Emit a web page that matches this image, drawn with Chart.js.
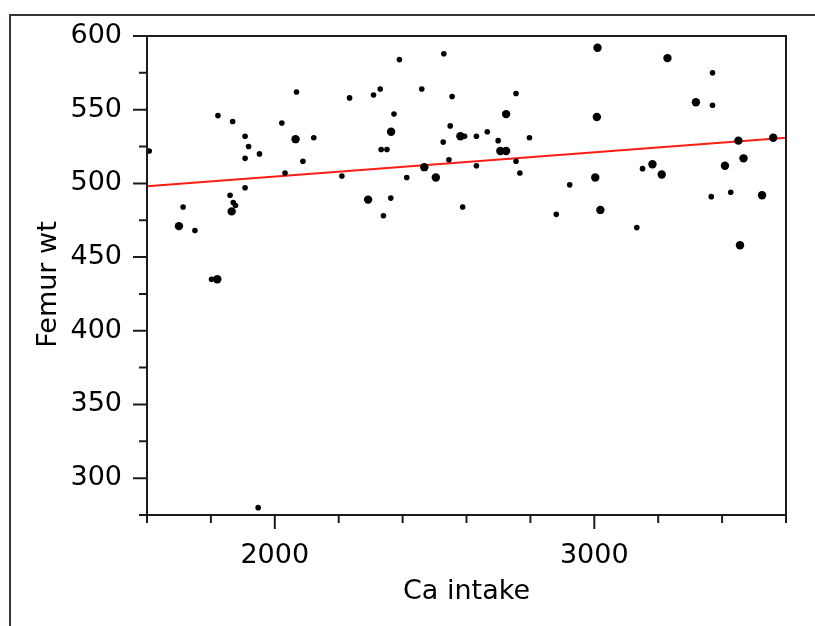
<!DOCTYPE html>
<html>
<head>
<meta charset="utf-8">
<script src="https://cdn.jsdelivr.net/npm/chart.js@4.4.1/dist/chart.umd.min.js"></script>
<style>
  html, body { margin: 0; padding: 0; background: #fff; }
  #wrap { width: 815px; height: 626px; position: relative; }
</style>
</head>
<body>
<div id="wrap"><canvas id="chartFemur"></canvas></div>
<script>
// pontos simples (um rato) e pontos sobrepostos (desenhados maiores)
const smallX = [1607, 1713, 1750, 1822, 1868, 1907, 1918, 1907, 1952, 1907, 1860, 1870, 1877,
  2068, 2022, 2122, 2088, 2032, 2210, 2234, 2390, 2529, 2309, 2330, 2460, 2555, 2755, 2373,
  2549, 2333, 2351, 2527, 2594, 2631, 2665, 2699, 2797, 2545, 2631, 2755, 2767, 2413, 2363,
  2340, 2588, 2881, 2923, 3370, 3370, 3151, 3366, 3427, 3133, 1802, 1948];
const smallY = [522, 484, 468, 546, 542, 532, 525, 517, 520, 497, 492, 487, 485,
  562, 541, 531, 515, 507, 505, 558, 584, 588, 560, 564, 564, 559, 561, 547,
  539, 523, 523, 528, 532, 532, 535, 529, 531, 516, 512, 515, 507, 504, 490,
  478, 484, 479, 499, 575, 553, 510, 491, 494, 470, 435, 280];

const bigX = [1700, 1865, 2065, 2724, 2364, 2581, 2706, 2724, 2468, 2504, 2292, 3010, 3229,
  3318, 3008, 3451, 3560, 3467, 3409, 3182, 3211, 3003, 3019, 3525, 3456, 1820];
const bigY = [471, 481, 530, 547, 535, 532, 522, 522, 511, 504, 489, 592, 585,
  555, 545, 529, 531, 517, 512, 513, 506, 504, 482, 492, 458, 435];

const fitX = [1600, 3600];
const fitY = [498, 531];

const xTicks = [2000, 3000];
const xMinor = [1600, 1800, 2200, 2400, 2600, 2800, 3200, 3400, 3600];
const yTicks = [300, 350, 400, 450, 500, 550, 600];
const yMinor = [275, 325, 375, 425, 475, 525, 575];

const FONT = { family: '"DejaVu Sans", sans-serif', size: 27 };

const molduraTicks = {
  id: 'molduraTicks',
  beforeDraw(chart) {
    const { ctx } = chart;
    ctx.save();
    ctx.strokeStyle = '#3b3333';
    ctx.lineWidth = 2;
    ctx.beginPath();
    ctx.moveTo(10, chart.height);
    ctx.lineTo(10, 15);
    ctx.lineTo(chart.width, 15);
    ctx.stroke();
    ctx.restore();
  },
  afterDraw(chart) {
    const { ctx, chartArea: a, scales: { x, y } } = chart;
    ctx.save();
    ctx.strokeStyle = '#1e1a1a';
    ctx.lineWidth = 2;
    ctx.strokeRect(a.left, a.top, a.right - a.left, a.bottom - a.top);
    ctx.beginPath();
    yTicks.forEach((v) => { const py = y.getPixelForValue(v); ctx.moveTo(a.left - 14, py); ctx.lineTo(a.left, py); });
    yMinor.forEach((v) => { const py = y.getPixelForValue(v); ctx.moveTo(a.left - 8, py); ctx.lineTo(a.left, py); });
    xTicks.forEach((v) => { const px = x.getPixelForValue(v); ctx.moveTo(px, a.bottom); ctx.lineTo(px, a.bottom + 14); });
    xMinor.forEach((v) => { const px = x.getPixelForValue(v); ctx.moveTo(px, a.bottom); ctx.lineTo(px, a.bottom + 8); });
    ctx.stroke();

    // título do eixo y, um pouco abaixo do centro como no original
    ctx.fillStyle = '#000';
    ctx.font = `${FONT.size}px ${FONT.family}`;
    ctx.textAlign = 'center';
    ctx.textBaseline = 'middle';
    ctx.translate(49, (a.top + a.bottom) / 2 + 9);
    ctx.rotate(-Math.PI / 2);
    ctx.fillText('Femur wt', 0, 0);
    ctx.restore();
  },
};

new Chart(document.getElementById('chartFemur'), {
  type: 'scatter',
  data: {
    datasets: [
      {
        data: smallX.map((v, i) => ({ x: v, y: smallY[i] })),
        backgroundColor: '#000',
        borderWidth: 0,
        pointRadius: 2.8,
        order: 1,
      },
      {
        data: bigX.map((v, i) => ({ x: v, y: bigY[i] })),
        backgroundColor: '#000',
        borderWidth: 0,
        pointRadius: 4.2,
        order: 1,
      },
      {
        type: 'line',
        data: fitX.map((v, i) => ({ x: v, y: fitY[i] })),
        borderColor: '#ff1c14',
        borderWidth: 2,
        pointRadius: 0,
        fill: false,
        order: 3,
      },
    ],
  },
  options: {
    responsive: true,
    maintainAspectRatio: false,
    animation: false,
    events: [],
    layout: { padding: { top: 36, right: 29, left: 0, bottom: 0 } },
    plugins: { legend: { display: false }, tooltip: { enabled: false } },
    scales: {
      x: {
        type: 'linear',
        min: 1600,
        max: 3600,
        afterBuildTicks: (s) => { s.ticks = xTicks.map((v) => ({ value: v })); },
        afterFit: (s) => { s.height = 111; s.paddingLeft = 0; s.paddingRight = 0; },
        grid: { display: false, drawTicks: false },
        border: { display: false },
        ticks: { color: '#000', font: FONT, padding: 25, maxRotation: 0, callback: (v) => String(v) },
        title: { display: true, text: 'Ca intake', color: '#000', font: FONT, padding: { top: 0, bottom: 18 } },
      },
      y: {
        type: 'linear',
        min: 275,
        max: 600,
        afterBuildTicks: (s) => { s.ticks = yTicks.map((v) => ({ value: v })); },
        afterFit: (s) => { s.width = 147; s.paddingTop = 0; s.paddingBottom = 0; },
        grid: { display: false, drawTicks: false },
        border: { display: false },
        ticks: { color: '#000', font: FONT, padding: 25, callback: (v) => String(v) },
        title: { display: false },
      },
    },
  },
  plugins: [molduraTicks],
});
</script>
</body>
</html>
